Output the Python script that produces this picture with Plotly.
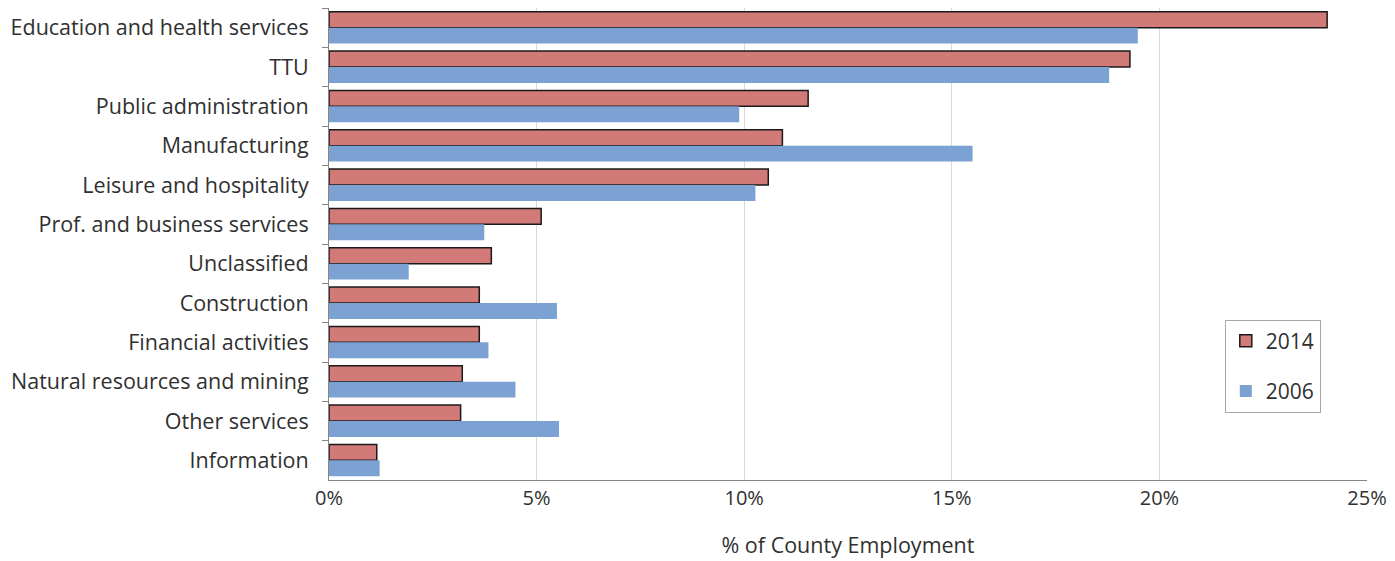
import plotly.graph_objects as go

categories = ["Education and health services", "TTU", "Public administration", "Manufacturing",
              "Leisure and hospitality", "Prof. and business services", "Unclassified",
              "Construction", "Financial activities", "Natural resources and mining",
              "Other services", "Information"]
values_2014 = [24.04, 19.29, 11.54, 10.92, 10.58, 5.11, 3.91, 3.62, 3.62, 3.21, 3.17, 1.15]
values_2006 = [19.48, 18.79, 9.88, 15.50, 10.27, 3.74, 1.92, 5.49, 3.84, 4.49, 5.54, 1.22]
x_ticks = [0, 5, 10, 15, 20, 25]
x_tick_labels = ["0%", "5%", "10%", "15%", "20%", "25%"]

FONT = "Open Sans"

fig = go.Figure()
fig.add_trace(go.Bar(y=categories, x=values_2014, orientation="h", name="2014",
                     legendgroup="a",
                     marker=dict(color="#D27A78", line=dict(color="#1a1a1a", width=1.5))))
fig.add_trace(go.Bar(y=categories, x=values_2006, orientation="h", name="2006",
                     legendgroup="b",
                     marker=dict(color="#7BA2D2", line=dict(width=0))))

fig.update_layout(
    width=1395, height=561,
    margin=dict(l=329, r=24, t=8, b=79),
    paper_bgcolor="white", plot_bgcolor="white",
    barmode="group", bargap=0.19, bargroupgap=0,
    font=dict(family=FONT, size=21, color="#303030"),
    legend=dict(x=0.863, y=0.34, xanchor="left", yanchor="top",
                bordercolor="#A6A6A6", borderwidth=1, bgcolor="white",
                font=dict(size=21), tracegroupgap=20, itemwidth=30),
    xaxis=dict(range=[0, 25], tickvals=x_ticks, ticktext=x_tick_labels,
               showgrid=True, gridcolor="#D9D9D9", gridwidth=1,
               showline=True, linecolor="#868686", linewidth=1,
               ticks="", zeroline=False,
               title=dict(text="% of County Employment", font=dict(size=21.5), standoff=27),
               tickfont=dict(size=20)),
    yaxis=dict(categoryorder="array", categoryarray=categories, autorange="reversed",
               showline=True, linecolor="#868686", linewidth=1,
               ticks="outside", tickson="boundaries", ticklen=6, tickcolor="#868686",
               ticklabelstandoff=15,
               showgrid=False, tickfont=dict(size=21.5)),
)

fig.write_html("out.html")
